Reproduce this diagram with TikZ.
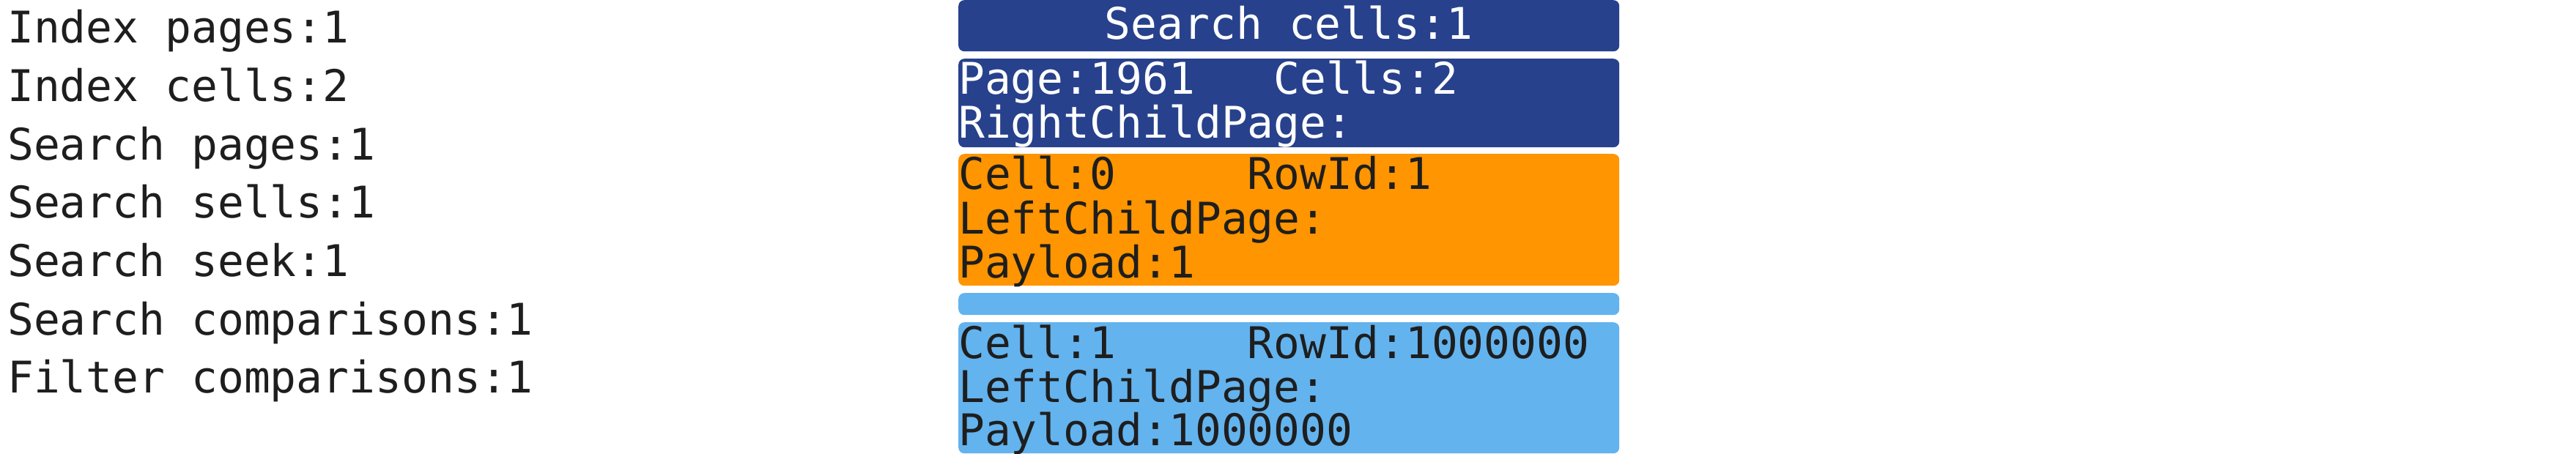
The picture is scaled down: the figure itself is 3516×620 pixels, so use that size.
\documentclass[tikz,border=0pt]{standalone}
\usepackage{fontspec}
\setmonofont{DejaVu Sans Mono}
\definecolor{dkblue}{HTML}{27418C}
\definecolor{orng}{HTML}{FF9500}
\definecolor{ltblue}{HTML}{63B3EE}
\definecolor{ink}{HTML}{1E1E1E}
\begin{document}
\begin{tikzpicture}[x=1pt,y=-1pt,
  box/.style={rectangle, rounded corners=8pt, draw=none, inner sep=0pt, anchor=north west, minimum width=902pt},
  txt/.style={inner sep=0pt, anchor=base west, font=\ttfamily\fontsize{59.6}{60}\selectfont, text=ink},
  wtxt/.style={txt, text=white}]
\useasboundingbox (0,0) rectangle (3516,620);
% left statistics
\foreach \t [count=\i from 0] in {Index pages:1, Index cells:2, Search pages:1, Search sells:1, Search seek:1, Search comparisons:1, Filter comparisons:1}
  \node[txt] (s\i) at (10,{59+79.6*\i}) {\t};
% boxes
\node[box, fill=dkblue, minimum height=70pt] (b1) at (1308,0) {};
\node[box, fill=dkblue, minimum height=121pt] (b2) at (1308,80) {};
\node[box, fill=orng, minimum height=180pt] (b3) at (1308,210) {};
\node[box, fill=ltblue, minimum height=30pt] (b4) at (1308,400) {};
\node[box, fill=ltblue, minimum height=179pt] (b5) at (1308,440) {};
% texts
\node[wtxt, anchor=base] (t1) at (1759,54) {Search cells:1};
\node[wtxt] (t2a) at (1308,129) {Page:1961\ \ \ Cells:2};
\node[wtxt] (t2b) at (1308,189) {RightChildPage:};
\node[txt] (t3a) at (1308,259) {Cell:0\ \ \ \ \ RowId:1};
\node[txt] (t3b) at (1308,319) {LeftChildPage:};
\node[txt] (t3c) at (1308,379) {Payload:1};
\node[txt] (t5a) at (1308,489) {Cell:1\ \ \ \ \ RowId:1000000};
\node[txt] (t5b) at (1308,549) {LeftChildPage:};
\node[txt] (t5c) at (1308,608) {Payload:1000000};
\end{tikzpicture}
\end{document}
